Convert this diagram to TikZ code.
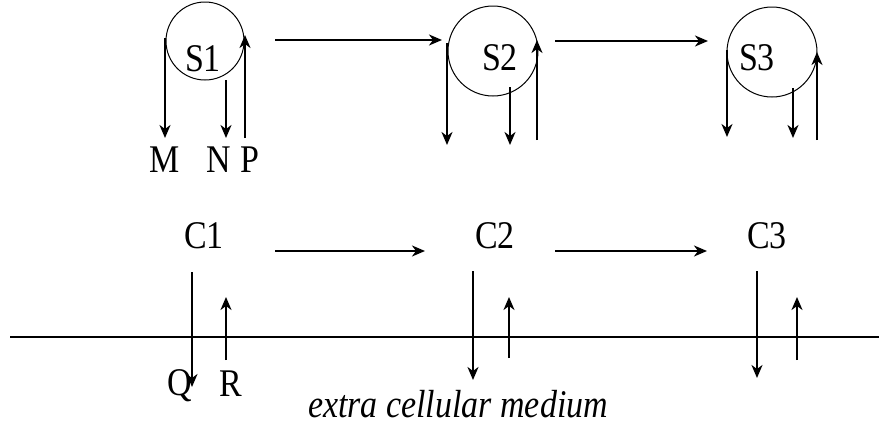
\documentclass[tikz,border=0pt]{standalone}
\usepackage{fontspec}
\setmainfont{Liberation Serif}
\usetikzlibrary{arrows.meta}
\newcommand{\tallt}[1]{\scalebox{0.97}[1.12]{#1}}
\begin{document}
\begin{tikzpicture}[x=1pt,y=-1pt,
  arr/.style={-{Stealth[length=13pt,width=11pt,inset=4pt]}, line width=2pt},
  cell/.style={circle, draw, line width=1pt, minimum size=#1, inner sep=0pt},
  lbl/.style={font=\fontsize{35}{38}\selectfont, inner sep=0pt},
]
\useasboundingbox (0,0) rectangle (879,432);
% cells
\node[cell=78pt] (s1) at (205,41) {};
\node[cell=90pt] (s2) at (493,51) {};
\node[cell=90pt] (s3) at (772,52) {};
\node[lbl] (t1) at (203,59) {\tallt{S1}};
\node[lbl] (t2) at (500,58) {\tallt{S2}};
\node[lbl] (t3) at (757,58) {\tallt{S3}};
% coordinates top
\coordinate (m0) at (165,38);  \coordinate (m1) at (165,138);
\coordinate (n0) at (226,80);  \coordinate (n1) at (226,138);
\coordinate (p0) at (245,138); \coordinate (p1) at (245,35);
\coordinate (a0) at (447,43);  \coordinate (a1) at (447,145);
\coordinate (b0) at (510,87);  \coordinate (b1) at (510,145);
\coordinate (c0) at (537,140); \coordinate (c1) at (537,40);
\coordinate (d0) at (727,50);  \coordinate (d1) at (727,137);
\coordinate (e0) at (793,88);  \coordinate (e1) at (793,138);
\coordinate (f0) at (817,140); \coordinate (f1) at (817,52);
\coordinate (h10) at (275,40); \coordinate (h11) at (442,40);
\coordinate (h20) at (555,41); \coordinate (h21) at (708,41);
\draw[arr] (m0) -- (m1);
\draw[arr] (n0) -- (n1);
\draw[arr] (p0) -- (p1);
\draw[arr] (a0) -- (a1);
\draw[arr] (b0) -- (b1);
\draw[arr] (c0) -- (c1);
\draw[arr] (d0) -- (d1);
\draw[arr] (e0) -- (e1);
\draw[arr] (f0) -- (f1);
\draw[arr] (h10) -- (h11);
\draw[arr] (h20) -- (h21);
\node[lbl] (lm) at (165,160) {\tallt{M}};
\node[lbl] (ln) at (219,160) {\tallt{N}};
\node[lbl] (lp) at (250,160) {\tallt{P}};
% lower
\node[lbl] (c1n) at (204,236) {\tallt{C1}};
\node[lbl] (c2n) at (495,236) {\tallt{C2}};
\node[lbl] (c3n) at (767,236) {\tallt{C3}};
\coordinate (h30) at (275,251); \coordinate (h31) at (425,251);
\coordinate (h40) at (555,251); \coordinate (h41) at (707,251);
\draw[arr] (h30) -- (h31);
\draw[arr] (h40) -- (h41);
\coordinate (w0) at (10,337); \coordinate (w1) at (879,337);
\draw[line width=2pt] (w0) -- (w1);
\coordinate (q0) at (192,272); \coordinate (q1) at (192,387);
\coordinate (r0) at (226,360); \coordinate (r1) at (226,297);
\coordinate (u0) at (473,271); \coordinate (u1) at (473,380);
\coordinate (v0) at (509,358); \coordinate (v1) at (509,297);
\coordinate (x0) at (757,271); \coordinate (x1) at (757,378);
\coordinate (y0) at (797,360); \coordinate (y1) at (797,297);
\draw[arr] (q0) -- (q1);
\draw[arr] (r0) -- (r1);
\draw[arr] (u0) -- (u1);
\draw[arr] (v0) -- (v1);
\draw[arr] (x0) -- (x1);
\draw[arr] (y0) -- (y1);
\node[lbl] (lq) at (180,386) {\tallt{Q}};
\node[lbl] (lr) at (231,384) {\tallt{R}};
\node[lbl, font=\fontsize{35}{38}\selectfont\itshape] (ecm) at (458,404) {\tallt{extra cellular medium}};
\end{tikzpicture}
\end{document}
